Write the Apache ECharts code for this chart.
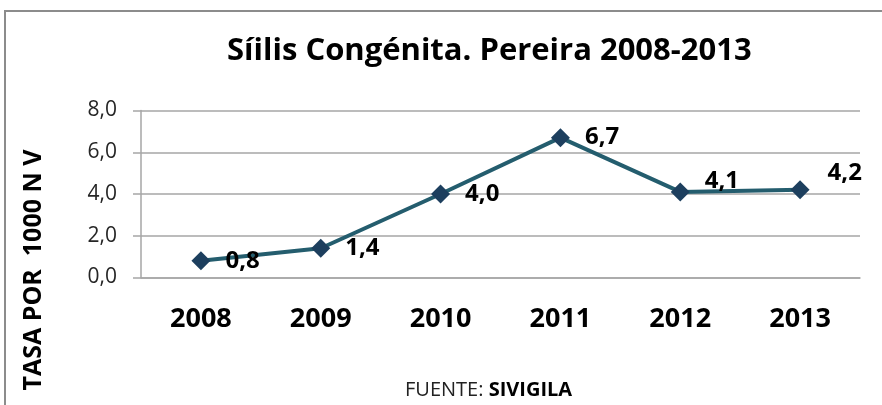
<!DOCTYPE html>
<html>
<head>
<meta charset="utf-8">
<script src="https://cdn.jsdelivr.net/npm/echarts@6/dist/echarts.min.js"></script>
<style>
  html, body { margin: 0; padding: 0; background: #fff; }
</style>
</head>
<body>
<div id="chart" style="width:882px;height:405px;"></div>
<script>
// datos
var years = ['2008', '2009', '2010', '2011', '2012', '2013'];
var tasa = [0.8, 1.4, 4.0, 6.7, 4.1, 4.2];
var yTicks = [0, 2, 4, 6, 8];

var font = '"Open Sans", "Noto Sans", sans-serif';
var coma = function (v) { return Number(v).toFixed(1).replace('.', ','); };

var chart = echarts.init(document.getElementById('chart'));

var option = {
  animation: false,
  backgroundColor: '#fff',
  title: {
    text: 'Síilis Congénita. Pereira 2008-2013',
    left: 222,
    top: 31,
    textStyle: { fontFamily: font, fontWeight: 'bold', fontSize: 31, color: '#000' }
  },
  grid: { left: 141, right: 22, top: 110.5, bottom: 127.5 },
  xAxis: {
    type: 'category',
    data: years,
    boundaryGap: true,
    axisLine: { lineStyle: { color: '#a6a6a6', width: 1.5 } },
    axisTick: { show: false },
    axisLabel: { margin: 28, fontFamily: font, fontWeight: 'bold', fontSize: 27, color: '#000' }
  },
  yAxis: {
    type: 'value',
    min: yTicks[0],
    max: yTicks[yTicks.length - 1],
    interval: 2,
    axisLine: { show: true, lineStyle: { color: '#a6a6a6', width: 1.5 } },
    axisTick: { show: true, length: 8, lineStyle: { color: '#a6a6a6', width: 1.5 } },
    splitLine: { lineStyle: { color: '#a6a6a6', width: 1.5 } },
    axisLabel: { margin: 24, fontFamily: font, fontSize: 21, color: '#262626', formatter: coma }
  },
  series: [{
    type: 'line',
    data: tasa,
    symbol: 'diamond',
    symbolSize: 19,
    itemStyle: { color: '#1d3f5e' },
    lineStyle: { color: '#245d6e', width: 4 },
    label: {
      show: true,
      position: 'right',
      distance: 15,
      offset: [0, 2],
      fontFamily: font,
      fontWeight: 'bold',
      fontSize: 24,
      color: '#000',
      formatter: function (p) { return coma(p.value); }
    },
    labelLayout: function (p) {
      if (p.dataIndex === 4) return { dy: -11 };
      if (p.dataIndex === 5) return { dx: 3, dy: -17 };
      return {};
    }
  }],
  graphic: [
    {
      type: 'rect',
      shape: { x: 5, y: 11, width: 900, height: 420 },
      style: { fill: 'none', stroke: '#8c8c8c', lineWidth: 2 },
      silent: true
    },
    {
      type: 'text',
      x: 34,
      y: 270,
      rotation: Math.PI / 2,
      style: {
        text: 'TASA POR  1000 N V',
        fontFamily: font,
        fontWeight: 'bold',
        fontSize: 25,
        fill: '#000',
        align: 'center',
        verticalAlign: 'middle'
      }
    },
    {
      type: 'text',
      x: 405,
      y: 390,
      style: {
        text: '{n|FUENTE: }{b|SIVIGILA}',
        verticalAlign: 'middle',
        rich: {
          n: { fontFamily: font, fontSize: 20, fill: '#222' },
          b: { fontFamily: font, fontSize: 20, fontWeight: 'bold', fill: '#000' }
        }
      }
    }
  ]
};

chart.setOption(option);
</script>
</body>
</html>
